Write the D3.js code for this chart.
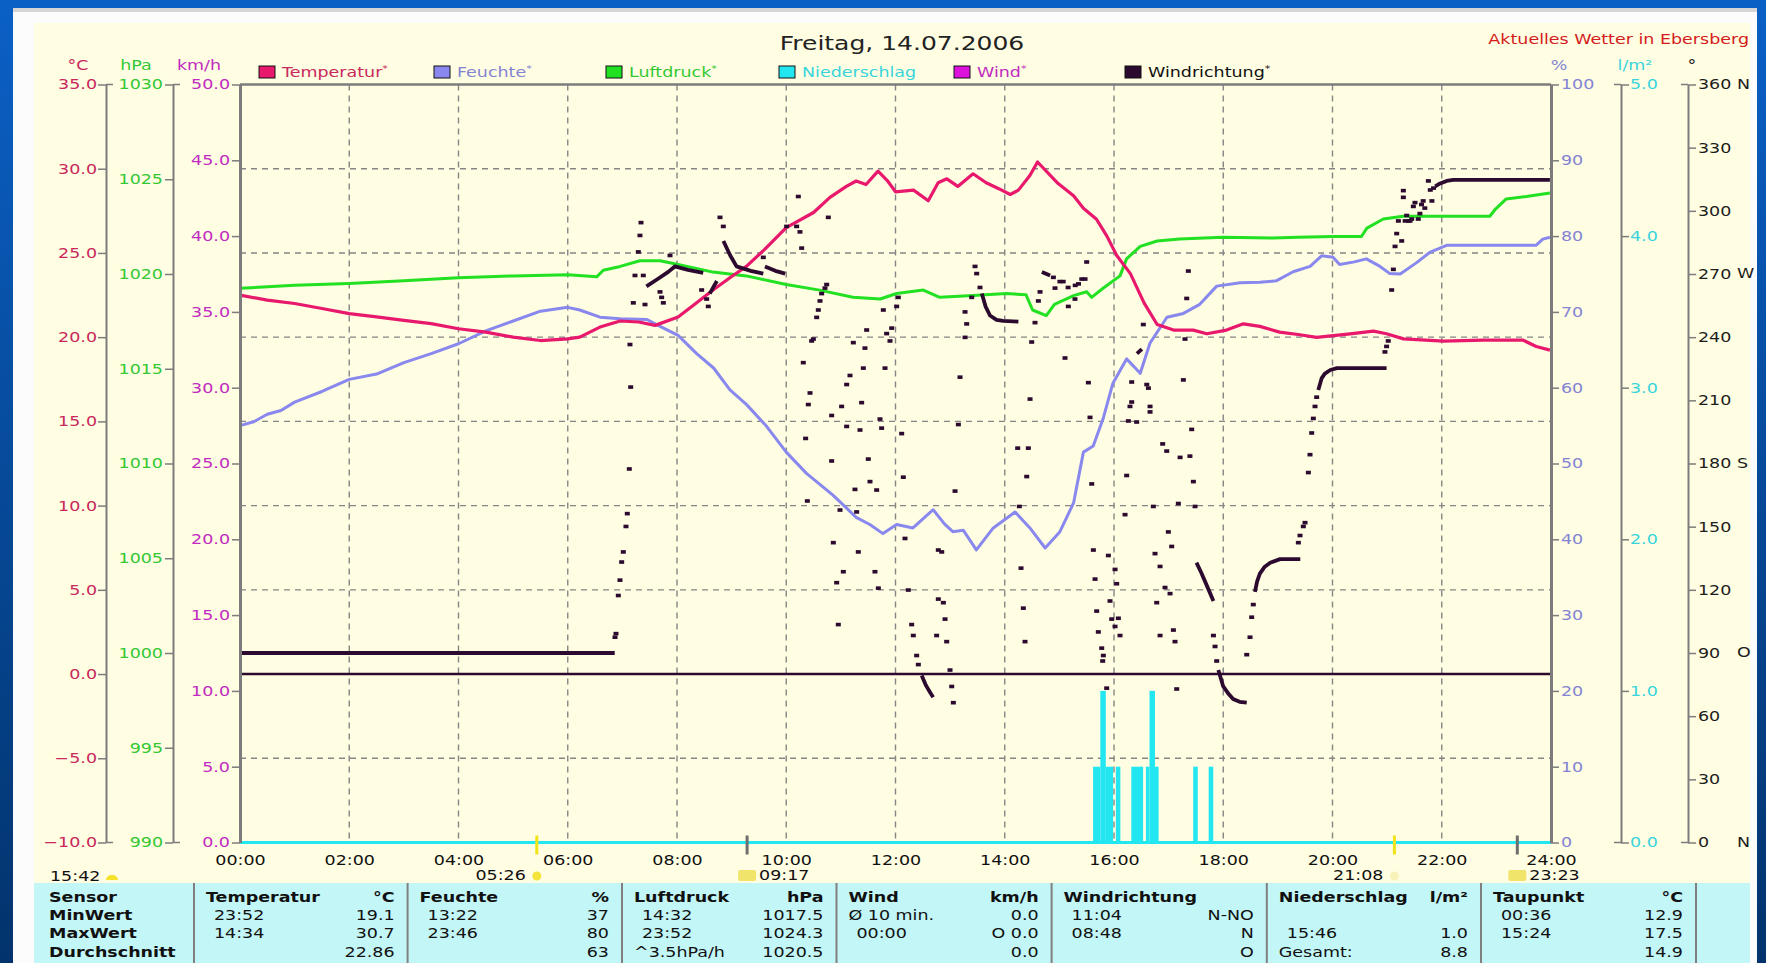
<!DOCTYPE html>
<html>
<head>
<meta charset="utf-8">
<script src="https://cdn.jsdelivr.net/npm/d3@7"></script>
<style>
  body { margin: 0; overflow: hidden; background: #0a4fa8; }
  text { font-family: "DejaVu Sans", sans-serif; }
</style>
</head>
<body>
<div id="chart"></div>
<script>
// ---- data (hours, value) ----
var tempSeries = [[0,22.5],[0.5,22.2],[1,22.0],[1.5,21.7],[2,21.4],[2.5,21.2],[3,21.0],[3.5,20.8],[4,20.5],[4.5,20.3],
  [5,20.0],[5.5,19.8],[6,19.9],[6.22,20.0],[6.59,20.6],[6.96,20.96],[7.3,20.9],[7.6,20.7],[8.02,21.2],[8.3,21.9],
  [8.66,22.8],[9.0,23.6],[9.27,24.2],[9.6,25.2],[10.0,26.5],[10.5,27.4],[10.8,28.3],[11.1,28.95],[11.28,29.27],
  [11.46,29.06],[11.68,29.86],[11.85,29.3],[12.0,28.63],[12.33,28.73],[12.6,28.1],[12.78,29.17],[12.94,29.4],
  [13.14,28.95],[13.42,29.7],[13.66,29.17],[13.9,28.8],[14.1,28.47],[14.25,28.73],[14.46,29.6],[14.6,30.4],
  [14.96,29.17],[15.26,28.4],[15.44,27.65],[15.68,27.0],[15.87,26.0],[16.05,24.85],[16.3,23.77],[16.55,22.04],
  [16.79,20.75],[17.09,20.42],[17.45,20.42],[17.7,20.2],[18.06,20.42],[18.37,20.79],[18.67,20.64],[19.03,20.3],
  [19.37,20.16],[19.71,19.99],[20.32,20.2],[20.75,20.36],[20.99,20.2],[21.3,19.9],[22.03,19.77],[22.76,19.82],
  [23.49,19.82],[23.73,19.45],[23.98,19.23]];

var humiditySeries = [[0,55.0],[0.25,55.5],[0.5,56.5],[0.75,57.0],[1,58.1],[1.5,59.5],[2,61.1],[2.5,61.8],[3,63.3],
  [3.5,64.5],[4,65.8],[4.5,67.5],[5,68.8],[5.5,70.1],[6,70.6],[6.22,70.25],[6.59,69.3],[6.96,69.1],[7.45,69.0],
  [7.69,68.1],[8.02,66.9],[8.36,64.5],[8.67,62.6],[8.97,59.7],[9.27,57.8],[9.64,54.9],[10.0,51.5],[10.37,48.7],
  [10.86,45.8],[11.28,42.9],[11.53,41.95],[11.77,40.75],[12.02,41.95],[12.32,41.5],[12.69,43.9],[12.9,42.0],
  [13.05,41.0],[13.24,41.2],[13.48,38.6],[13.79,41.5],[14.19,43.6],[14.46,41.5],[14.74,38.85],[15.01,41.0],
  [15.26,44.8],[15.44,51.5],[15.62,52.3],[15.8,55.9],[15.98,60.6],[16.23,63.8],[16.48,61.9],[16.66,65.9],
  [16.97,69.3],[17.27,69.8],[17.57,71.0],[17.88,73.4],[18.31,73.85],[18.67,73.9],[18.97,74.1],[19.28,75.3],
  [19.59,76.0],[19.8,77.4],[20.01,77.2],[20.13,76.25],[20.4,76.6],[20.62,77.0],[20.87,76.0],[21.05,75.05],
  [21.24,75.0],[21.54,76.5],[21.79,77.9],[22.1,78.8],[22.76,78.8],[23.73,78.8],[23.85,79.6],[23.98,79.85]];

var pressureSeries = [[0,1019.25],[1,1019.4],[2,1019.5],[3,1019.65],[4,1019.8],[5,1019.9],[6,1019.96],[6.53,1019.85],
  [6.65,1020.2],[6.96,1020.4],[7.32,1020.7],[7.69,1020.7],[8.02,1020.5],[8.66,1020.1],[9.27,1019.9],[10.0,1019.45],
  [10.61,1019.15],[11.22,1018.77],[11.72,1018.68],[12.02,1018.97],[12.51,1019.15],[12.81,1018.77],[13.42,1018.86],
  [14.03,1018.97],[14.39,1018.9],[14.51,1018.1],[14.76,1017.8],[14.91,1018.4],[15.26,1018.86],[15.5,1019.06],
  [15.59,1018.77],[15.8,1019.25],[16.11,1019.9],[16.23,1020.8],[16.48,1021.46],[16.79,1021.74],[17.2,1021.85],
  [17.99,1021.94],[18.91,1021.9],[19.37,1021.94],[20.01,1021.98],[20.53,1021.98],[20.63,1022.42],[20.93,1022.9],
  [21.29,1023.05],[22.03,1023.05],[22.88,1023.05],[22.97,1023.38],[23.18,1023.96],[23.55,1024.09],[23.98,1024.28]];

var windSeries = [[0,0],[24,0]];

var rainFrom = ["15:37","15:45","15:51","16:02","16:19","16:35","16:39","16:45","17:27","17:44"];
var rainTo = ["15:45","15:51","15:59","16:07","16:32","16:39","16:45","16:49","17:32","17:49"];
var rainAmount = [0.5,1.0,0.5,0.5,0.5,0.5,1.0,0.5,0.5,0.5];

// wind direction: dense stretches (drawn as thick runs) and single readings
var windDirRuns = [
  [[0,90],[6.86,90]],
  [[7.44,264.1],[7.64,267.5],[7.84,271.0],[7.96,273.6],[8.2,272],[8.48,270.5]],
  [[8.60,260.7],[8.66,263.5],[8.73,266.7]],
  [[8.85,285.7],[8.97,279],[9.09,273.6],[9.35,271.5],[9.58,270.2]],
  [[9.61,273.6],[9.8,271.5],[9.98,270.2]],
  [[12.48,79.3],[12.56,74.5],[12.64,71],[12.69,69.0]],
  [[13.58,260.7],[13.65,254.5],[13.73,250.3],[13.85,248.2],[13.97,247.7],[14.25,247.4]],
  [[14.68,271.0],[14.83,269.3]],
  [[16.42,232.2],[16.51,234.3]],
  [[17.51,132.9],[17.6,128.0],[17.7,122.0],[17.82,114.7]],
  [[17.91,81.9],[18.0,74.1],[18.1,70.5],[18.18,68.1],[18.3,66.8],[18.43,66.4]],
  [[18.58,119.0],[18.62,124.0],[18.67,127.7],[18.76,131.0],[18.86,132.9],[19.04,134.6],[19.41,134.6]],
  [[19.74,214.9],[19.80,220.4],[19.86,222.7],[19.96,224.4],[20.08,225.3],[20.99,225.3]],
  [[21.88,311.6],[21.97,313.0],[22.09,314.2],[22.21,314.7],[23.98,314.7]]
];

var windDirDots = [[6.865,97.5],[6.883,99.2],[6.926,117.3],[6.956,124.6],[6.987,133.2],[7.017,138.0],[7.066,150.1],
  [7.090,156.2],[7.127,177.4],[7.139,236.5],[7.152,216.3],[7.200,256.3],[7.231,269.3],[7.292,280.5],[7.322,288.3],
  [7.341,294.4],[7.383,269.3],[7.414,255.5],[7.689,261.5],[7.719,258.9],[7.750,256.3],[7.872,278.8],[8.451,262.4],
  [8.543,258.1],[8.573,254.6],[8.787,296.9],[8.848,292.6],[9.580,277.9],[10.007,292.6],[10.19,292.6],[10.221,306.8],
  [10.251,290.0],[10.282,282.3],[10.312,227.9],[10.355,191.9],[10.386,162.2],[10.404,208.0],[10.435,213.5],
  [10.465,238.2],[10.496,239.1],[10.557,249.4],[10.587,252.9],[10.618,257.2],[10.648,260.7],[10.709,263.3],
  [10.740,265.0],[10.770,296.9],[10.831,202.8],[10.831,181.2],[10.862,142.4],[10.923,123.4],[10.953,103.5],
  [10.984,157.9],[11.014,207.1],[11.045,128.6],[11.106,217.5],[11.106,197.6],[11.167,221.8],[11.228,237.4],
  [11.258,167.7],[11.289,157.0],[11.319,138.0],[11.350,195.9],[11.380,208.9],[11.411,225.3],[11.441,234.8],
  [11.472,243.4],[11.502,182.1],[11.533,171.4],[11.624,128.6],[11.655,167.4],[11.686,120.8],[11.716,201.1],
  [11.746,196.8],[11.777,252.9],[11.808,225.3],[11.838,241.7],[11.899,238.2],[11.930,244.3],[12.021,254.6],
  [12.052,258.9],[12.113,194.2],[12.143,173.5],[12.174,144.4],[12.235,119.9],[12.296,103.5],[12.326,98.3],
  [12.387,88.8],[12.418,84.5],[12.753,98.3],[12.784,138.9],[12.784,115.6],
  [12.846,138.0],[12.876,113.9],[12.907,106.1],[12.937,95.4],[12.998,81.9],[13.029,74.1],[13.059,66.4],
  [13.090,166.9],[13.151,198.5],[13.181,221.0],[13.273,252.0],[13.303,246.3],[13.273,239.9],[13.395,258.9],
  [13.456,273.6],[13.486,270.2],[13.547,263.6],[14.237,187.3],[14.267,159.6],[14.298,130.3],[14.340,111.3],
  [14.371,95.4],[14.402,173.8],[14.432,187.3],[14.463,210.6],[14.493,237.7],[14.554,246.9],[14.615,257.2],
  [14.646,261.5],[14.89,268.4],[14.92,263.3],[15.01,266.4],[15.07,266.4],[15.103,230.1],[15.164,254.6],
  [15.16,263.6],[15.29,264.6],[15.286,258.1],[15.35,265.3],[15.41,267.6],[15.47,267.6],[15.50,275.7],
  [15.531,218.4],[15.561,201.9],[15.592,170.3],[15.622,138.9],[15.653,125.1],[15.683,109.9],[15.713,100.0],
  [15.775,92.3],[15.793,86.2],[15.805,88.8],[15.866,73.3],[15.897,136.3],[15.927,114.7],[15.958,106.1],
  [16.019,129.7],[16.019,102.6],[16.049,122.9],[16.08,106.5],[16.11,98.3],[16.202,155.7],[16.232,174.3],
  [16.263,200.2],[16.293,207.1],[16.324,209.2],[16.324,218.7],[16.415,199.7],[16.537,246.0],[16.6,217.5],
  [16.63,215.8],[16.66,207.1],[16.66,204.5],[16.72,159.6],[16.751,137.2],[16.782,113.9],[16.843,131.1],
  [16.843,98.3],[16.891,189.3],[16.934,121.1],[16.965,185.9],[16.995,147.5],[17.026,118.2],[17.056,140.6],
  [17.087,100.9],[17.117,95.4],[17.148,72.9],[17.178,161.0],[17.21,182.9],[17.27,219.7],[17.300,239.1],
  [17.331,258.4],[17.361,271.4],[17.39,183.5],[17.422,196.2],[17.453,171.4],[17.483,159.6],[17.82,98.3],
  [17.85,93.1],[17.88,86.2],[18.43,89.2],[18.49,97.5],[18.52,107.0],[18.55,113.0],
  [19.375,142.4],[19.405,145.8],[19.466,150.1],[19.497,151.9],[19.558,175.7],[19.588,184.2],[19.619,194.5],
  [19.649,201.4],[19.68,207.1],[19.71,211.5],[20.96,233.0],[20.99,235.6],[21.02,238.2],[21.083,262.4],
  [21.114,272.2],[21.145,283.1],[21.175,289.2],[21.206,295.2],[21.267,285.7],[21.297,306.4],[21.297,309.6],
  [21.33,295.2],[21.358,297.8],[21.39,295.2],[21.42,295.2],[21.45,296.1],[21.48,302.1],[21.51,303.9],
  [21.57,296.1],[21.60,298.7],[21.63,303.0],[21.66,304.7],[21.69,301.3],[21.755,314.2],[21.79,309.9],
  [21.82,304.7],[21.85,310.8]];

// ---- axis ticks ----
var hourTicks = [0,2,4,6,8,10,12,14,16,18,20,22,24];
var tempTicks = [35,30,25,20,15,10,5,0,-5,-10];
var pressureTicks = [1030,1025,1020,1015,1010,1005,1000,995,990];
var windTicks = [50,45,40,35,30,25,20,15,10,5,0];
var humidityTicks = [100,90,80,70,60,50,40,30,20,10,0];
var rainTicks = [5,4,3,2,1,0];
var dirTicks = [360,330,300,270,240,210,180,150,120,90,60,30,0];
var dirLetters = ["N","","","W","","","S","","","O","","","N"];

// sun / moon times shown under the time axis
var markerTimes = ["05:26","09:17","21:08","23:23"];
var markerKinds = ["sunrise","moonrise","sunset","moonset"];

// legend
var legendNames = ["Temperatur","Feuchte","Luftdruck","Niederschlag","Wind","Windrichtung"];
var legendStars = [true,true,true,false,true,true];

// summary table
var sensorNames = ["Temperatur","Feuchte","Luftdruck","Wind","Windrichtung","Niederschlag","Taupunkt",""];
var sensorUnits = ["°C","%","hPa","km/h","","l/m²","°C",""];
var rowNames = ["MinWert","MaxWert","Durchschnitt"];
var minTimes = ["23:52","13:22","14:32","Ø 10 min.","11:04","","00:36",""];
var minValues = ["19.1","37","1017.5","0.0","N-NO","","12.9",""];
var maxTimes = ["14:34","23:46","23:52","00:00","08:48","15:46","15:24",""];
var maxValues = ["30.7","80","1024.3","O 0.0","N","1.0","17.5",""];
var avgTimes = ["","","^3.5hPa/h","","","Gesamt:","",""];
var avgValues = ["22.86","63","1020.5","0.0","O","8.8","14.9",""];

// ---- layout ----
var svgWidth = 1766, svgHeight = 963;
var plot = {left: 240, right: 1551, top: 84.5, bottom: 842.5};
var colors = {
  temp: "#e8186c", tempText: "#c8285c",
  hum: "#8888ee", humText: "#8484d4",
  pres: "#22e022", presText: "#34c834",
  rain: "#22e6f0", rainText: "#3ad4dc",
  wind: "#dd11dd", windText: "#c02cc0",
  dir: "#2c0a30"
};
var legendX = [259, 434, 606, 779, 954, 1125];
var tableCols = [34, 194, 407.6, 622, 836.5, 1051.6, 1266.8, 1481, 1696, 1750];

function hrs(s) {
  var p = s.split(":");
  return +p[0] + p[1] / 60;
}

var svg = d3.select("#chart").append("svg")
  .attr("width", svgWidth)
  .attr("height", svgHeight);

// background: blue slide, white window, cream chart area
var grad = svg.append("defs").append("linearGradient")
  .attr("id", "bluebg").attr("x1", 0).attr("y1", 0).attr("x2", 0).attr("y2", 1);
grad.append("stop").attr("offset", "0%").attr("stop-color", "#0b60c6");
grad.append("stop").attr("offset", "100%").attr("stop-color", "#02336c");
svg.append("rect").attr("width", svgWidth).attr("height", svgHeight).attr("fill", "url(#bluebg)");
svg.append("rect").attr("x", 13).attr("y", 8).attr("width", 1744).attr("height", 955).attr("fill", "#fcfcfc");
svg.append("rect").attr("x", 13).attr("y", 8).attr("width", 1744).attr("height", 4).attr("fill", "#d6d6d6");
svg.append("rect").attr("x", 34).attr("y", 23).attr("width", 1716).attr("height", 860).attr("fill", "#fffde2");

// scales
var x = d3.scaleLinear().domain([0, 24]).range([plot.left, plot.right]);
var yTemp = d3.scaleLinear().domain([-10, 35]).range([plot.bottom, plot.top]);
var yPres = d3.scaleLinear().domain([990, 1030]).range([plot.bottom, plot.top]);
var yWind = d3.scaleLinear().domain([0, 50]).range([plot.bottom, plot.top]);
var yHum = d3.scaleLinear().domain([0, 100]).range([plot.bottom, plot.top]);
var yRain = d3.scaleLinear().domain([0, 5]).range([plot.bottom, plot.top]);
var yDir = d3.scaleLinear().domain([0, 360]).range([plot.bottom, plot.top]);

// dashed grid
var gridGroup = svg.append("g")
  .attr("stroke", "#858585")
  .attr("stroke-width", 1.4)
  .attr("stroke-dasharray", "6,5");
gridGroup.selectAll(".vgrid")
  .data(hourTicks.slice(1, -1))
  .enter().append("line")
  .attr("x1", d => x(d)).attr("x2", d => x(d))
  .attr("y1", plot.top).attr("y2", plot.bottom);
gridGroup.selectAll(".hgrid")
  .data(tempTicks.slice(1, -1))
  .enter().append("line")
  .attr("x1", plot.left).attr("x2", plot.right)
  .attr("y1", d => yTemp(d)).attr("y2", d => yTemp(d));

// zero degree line
svg.append("line")
  .attr("x1", plot.left).attr("x2", plot.right)
  .attr("y1", yTemp(0)).attr("y2", yTemp(0))
  .attr("stroke", colors.dir).attr("stroke-width", 2.5);

// rain bars
svg.append("g").selectAll("rect")
  .data(rainAmount)
  .enter().append("rect")
  .attr("x", (d, i) => x(hrs(rainFrom[i])))
  .attr("width", (d, i) => x(hrs(rainTo[i])) - x(hrs(rainFrom[i])))
  .attr("y", d => yRain(d))
  .attr("height", d => yRain(0) - yRain(d))
  .attr("fill", colors.rain);

function drawSeries(data, yScale, color, width) {
  var line = d3.line().x(d => x(d[0])).y(d => yScale(d[1]));
  svg.append("path")
    .datum(data)
    .attr("d", line)
    .attr("fill", "none")
    .attr("stroke", color)
    .attr("stroke-width", width)
    .attr("stroke-linejoin", "round");
}

drawSeries(windSeries, yWind, colors.wind, 3);
// rain zero line along the bottom
svg.append("line")
  .attr("x1", plot.left).attr("x2", plot.right)
  .attr("y1", yRain(0)).attr("y2", yRain(0))
  .attr("stroke", colors.rain).attr("stroke-width", 3);
drawSeries(humiditySeries, yHum, colors.hum, 3);
drawSeries(pressureSeries, yPres, colors.pres, 3);
drawSeries(tempSeries, yTemp, colors.temp, 3.2);

// wind direction
windDirRuns.forEach(function(run) {
  drawSeries(run, yDir, colors.dir, 3.8);
});
svg.append("g").selectAll("rect")
  .data(windDirDots)
  .enter().append("rect")
  .attr("x", d => x(d[0]) - 2.5)
  .attr("y", d => yDir(d[1]) - 1.8)
  .attr("width", 5)
  .attr("height", 3.6)
  .attr("fill", colors.dir);

// plot frame
svg.append("line").attr("x1", plot.left).attr("x2", plot.right)
  .attr("y1", plot.top).attr("y2", plot.top)
  .attr("stroke", "#7c7c7c").attr("stroke-width", 2.5);

// axes
function styleAxis(g, labelColor, lineWidth) {
  g.attr("font-family", "DejaVu Sans").attr("font-size", 14);
  g.select(".domain").attr("stroke", "#7c7c7c").attr("stroke-width", lineWidth);
  g.selectAll(".tick line").attr("stroke", "#7c7c7c").attr("stroke-width", 1.5);
  g.selectAll(".tick text").attr("fill", labelColor);
}

function addStubs(xPos, dir) {
  [plot.top, plot.bottom].forEach(function(yy) {
    svg.append("line")
      .attr("x1", xPos).attr("x2", xPos + dir * 7)
      .attr("y1", yy).attr("y2", yy)
      .attr("stroke", "#7c7c7c").attr("stroke-width", 1.5);
  });
}

var tempAxis = svg.append("g").attr("transform", "translate(106,0)")
  .call(d3.axisLeft(yTemp).tickValues(tempTicks).tickSize(8).tickSizeOuter(0).tickPadding(1).tickFormat(d3.format(".1f")));
styleAxis(tempAxis, colors.tempText, 2);
addStubs(106, 1);

var presAxis = svg.append("g").attr("transform", "translate(173,0)")
  .call(d3.axisLeft(yPres).tickValues(pressureTicks).tickSize(8).tickSizeOuter(0).tickPadding(2).tickFormat(d3.format("d")));
styleAxis(presAxis, colors.presText, 2);
addStubs(173, 1);

var windAxis = svg.append("g").attr("transform", "translate(" + plot.left + ",0)")
  .call(d3.axisLeft(yWind).tickValues(windTicks).tickSize(8).tickSizeOuter(0).tickPadding(2).tickFormat(d3.format(".1f")));
styleAxis(windAxis, colors.windText, 3);

var humAxis = svg.append("g").attr("transform", "translate(" + plot.right + ",0)")
  .call(d3.axisRight(yHum).tickValues(humidityTicks).tickSize(8).tickSizeOuter(0).tickPadding(2).tickFormat(d3.format("d")));
styleAxis(humAxis, colors.humText, 3);

var rainAxis = svg.append("g").attr("transform", "translate(1621,0)")
  .call(d3.axisRight(yRain).tickValues(rainTicks).tickSize(8).tickSizeOuter(0).tickPadding(1).tickFormat(d3.format(".1f")));
styleAxis(rainAxis, colors.rainText, 2);
addStubs(1621, -1);

var dirAxis = svg.append("g").attr("transform", "translate(1688,0)")
  .call(d3.axisRight(yDir).tickValues(dirTicks).tickSize(8).tickSizeOuter(0).tickPadding(2).tickFormat(d3.format("d")));
styleAxis(dirAxis, "#1e1e1e", 2);
addStubs(1688, -1);

// compass letters beside the direction ticks
svg.append("g").selectAll("text")
  .data(dirTicks)
  .enter().append("text")
  .attr("x", 1737)
  .attr("y", d => yDir(d))
  .attr("dy", "0.32em")
  .attr("font-size", 14)
  .attr("fill", "#1e1e1e")
  .text((d, i) => dirLetters[i]);

// time axis labels
var timeAxis = svg.append("g").attr("transform", "translate(0," + plot.bottom + ")")
  .call(d3.axisBottom(x).tickValues(hourTicks).tickSize(0).tickPadding(13)
    .tickFormat(d => (d < 10 ? "0" : "") + d + ":00"));
timeAxis.attr("font-family", "DejaVu Sans").attr("font-size", 14);
timeAxis.select(".domain").remove();
timeAxis.selectAll(".tick text").attr("fill", "#111");

// sun and moon markers
markerTimes.forEach(function(t, i) {
  var mx = x(hrs(t));
  var isSun = markerKinds[i].indexOf("sun") === 0;
  svg.append("line")
    .attr("x1", mx).attr("x2", mx)
    .attr("y1", plot.bottom - 7).attr("y2", plot.bottom + 12)
    .attr("stroke", isSun ? "#f2e21a" : "#6e6e6e").attr("stroke-width", 3);
  if (isSun) {
    svg.append("circle").attr("cx", mx).attr("cy", 876).attr("r", 4.5)
      .attr("fill", markerKinds[i] === "sunrise" ? "#f4e43a" : "#f8f2b8");
    svg.append("text").attr("x", mx - 11).attr("y", 880)
      .attr("text-anchor", "end").attr("font-size", 14).attr("fill", "#111").text(t);
  } else {
    svg.append("rect").attr("x", mx - 9).attr("y", 870).attr("width", 18).attr("height", 11)
      .attr("rx", 2).attr("fill", "#f0e46a");
    svg.append("text").attr("x", mx + 12).attr("y", 880)
      .attr("font-size", 14).attr("fill", "#111").text(t);
  }
});

// last update time at the lower left
svg.append("text").attr("x", 50).attr("y", 881).attr("font-size", 14).attr("fill", "#111").text("15:42");
svg.append("path").attr("d", "M106,880 A6,5 0 0 1 118,880 Z").attr("fill", "#f6e22c");

// unit labels above the axes
var unitLabels = [
  {t: "°C", x: 78, c: colors.tempText}, {t: "hPa", x: 136, c: colors.presText},
  {t: "km/h", x: 199, c: colors.windText}, {t: "%", x: 1559, c: colors.humText},
  {t: "l/m²", x: 1635, c: colors.rainText}, {t: "°", x: 1692, c: "#222"}
];
svg.append("g").selectAll("text")
  .data(unitLabels)
  .enter().append("text")
  .attr("x", d => d.x).attr("y", 70)
  .attr("text-anchor", "middle")
  .attr("font-size", 14)
  .attr("fill", d => d.c)
  .text(d => d.t);

// title and station name
svg.append("text").attr("x", 902).attr("y", 50).attr("text-anchor", "middle")
  .attr("font-size", 20).attr("fill", "#222").text("Freitag, 14.07.2006");
svg.append("text").attr("x", 1749).attr("y", 44).attr("text-anchor", "end")
  .attr("font-size", 14).attr("fill", "#d41c1c").text("Aktuelles Wetter in Ebersberg");

// legend
var legendFill = [colors.temp, colors.hum, colors.pres, colors.rain, colors.wind, colors.dir];
var legendText = [colors.tempText, colors.humText, colors.presText, colors.rainText, colors.windText, "#111"];
var legend = svg.append("g").selectAll("g")
  .data(legendNames)
  .enter().append("g");
legend.append("rect")
  .attr("x", (d, i) => legendX[i]).attr("y", 66)
  .attr("width", 16).attr("height", 12)
  .attr("fill", (d, i) => legendFill[i])
  .attr("stroke", "#111").attr("stroke-width", 1);
var legendLabel = legend.append("text")
  .attr("x", (d, i) => legendX[i] + 23).attr("y", 77)
  .attr("font-size", 14)
  .attr("fill", (d, i) => legendText[i])
  .text(d => d);
legendLabel.filter((d, i) => legendStars[i])
  .append("tspan").attr("font-size", 9).attr("dy", -5).text("*");

// summary table
var tableTop = 883;
svg.append("rect").attr("x", tableCols[0]).attr("y", tableTop)
  .attr("width", tableCols[tableCols.length - 1] - tableCols[0]).attr("height", svgHeight - tableTop)
  .attr("fill", "#c3f6f7");
svg.append("g").selectAll("line")
  .data(tableCols.slice(1, -1))
  .enter().append("line")
  .attr("x1", d => d).attr("x2", d => d)
  .attr("y1", tableTop).attr("y2", svgHeight)
  .attr("stroke", "#808080").attr("stroke-width", 2);

var rowY = [902, 920, 938.5, 957];
var table = svg.append("g").attr("font-size", 14).attr("fill", "#111");
table.append("text").attr("x", 49).attr("y", rowY[0]).attr("font-weight", "bold").text("Sensor");
rowNames.forEach(function(name, r) {
  table.append("text").attr("x", 49).attr("y", rowY[r + 1]).attr("font-weight", "bold").text(name);
});
var rowLeft = [minTimes, maxTimes, avgTimes];
var rowRight = [minValues, maxValues, avgValues];
sensorNames.forEach(function(name, c) {
  var x0 = tableCols[c + 1], x1 = tableCols[c + 2];
  table.append("text").attr("x", x0 + 12).attr("y", rowY[0]).attr("font-weight", "bold").text(name);
  table.append("text").attr("x", x1 - 13).attr("y", rowY[0]).attr("font-weight", "bold")
    .attr("text-anchor", "end").text(sensorUnits[c]);
  for (var r = 0; r < 3; r++) {
    var lt = rowLeft[r][c];
    var indent = (lt.indexOf(":") === 2) ? 20 : 12;
    table.append("text").attr("x", x0 + indent).attr("y", rowY[r + 1]).text(lt);
    table.append("text").attr("x", x1 - 13).attr("y", rowY[r + 1])
      .attr("text-anchor", "end").text(rowRight[r][c]);
  }
});

// the source screenshot is stretched sideways: widen every text around its anchor
svg.selectAll("text").each(function() {
  var t = d3.select(this);
  var tx = +t.attr("x") || 0, ty = +t.attr("y") || 0;
  t.attr("transform", "translate(" + tx + "," + ty + ") scale(1.25,1) translate(" + (-tx) + "," + (-ty) + ")");
});
</script>
</body>
</html>
